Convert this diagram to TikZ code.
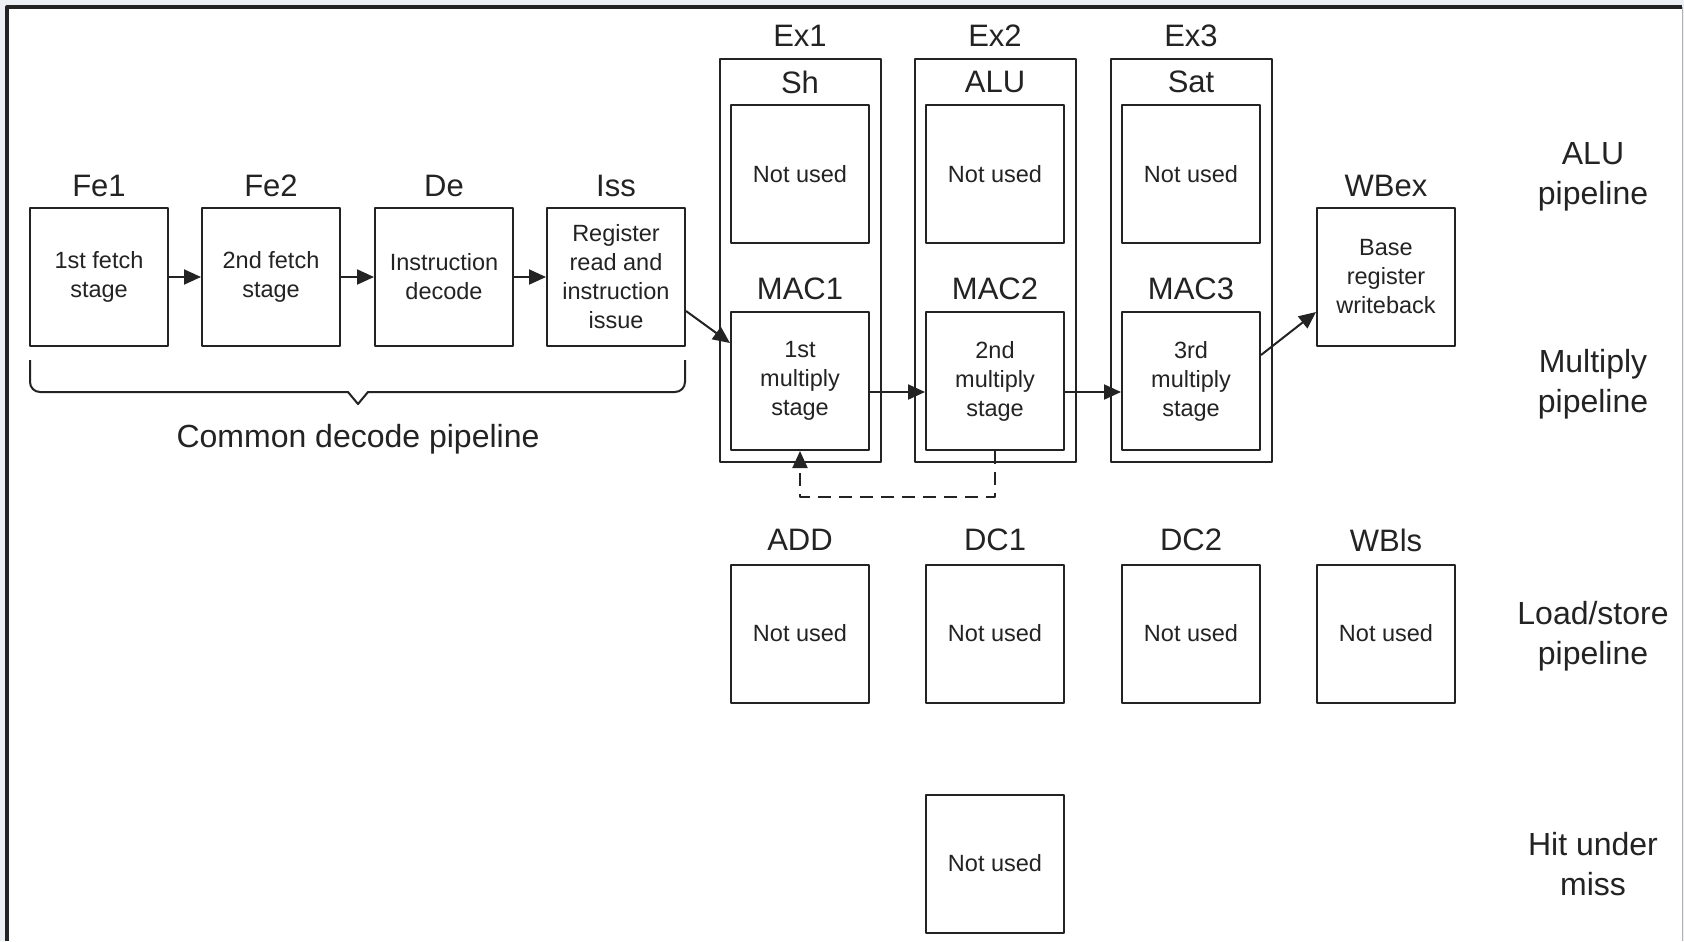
\documentclass[tikz,border=0pt]{standalone}
\usepackage{fontspec}
\setmainfont{Liberation Sans}
\usetikzlibrary{arrows.meta}
\definecolor{ink}{RGB}{35,35,35}
\definecolor{pagebg}{RGB}{236,240,245}
\tikzset{
	stage/.style={draw=ink, line width=1pt, minimum width=69pt, minimum height=69pt, inner sep=0pt, align=center, text=ink, font=\fontsize{11.75}{14.5}\selectfont},
	unit/.style={draw=ink, line width=1pt, minimum width=80.5pt, minimum height=201.5pt, inner sep=0pt},
	tag/.style={text=ink, inner sep=0pt, font=\fontsize{15.5}{18}\selectfont},
	pipe/.style={text=ink, inner sep=0pt, align=center, font=\fontsize{16}{20}\selectfont},
	flow/.style={->, draw=ink, line width=1pt},
}
\begin{document}
\begin{tikzpicture}[x=0.5pt, y=-0.5pt, line join=round, >={Triangle[length=8.5pt,width=7.5pt]}]
	\useasboundingbox (0,0) rectangle (1684,941);
	% page
	\fill[pagebg] (0,0) rectangle (1684,941);
	\fill[white] (7,7) rectangle (1682,941);
	\draw[ink, line width=1.6pt] (7,941) -- (7,7) -- (1682,7);
	\draw[gray!60, line width=0.5pt] (1682,7) -- (1682,941);
	% common decode pipeline
	\node[stage] (fe1) at (99,277) {1st fetch\\stage};
	\node[stage] (fe2) at (271,277) {2nd fetch\\stage};
	\node[stage] (de) at (444,277) {Instruction\\decode};
	\node[stage] (iss) at (616,277) {Register\\read and\\instruction\\issue};
	\node[tag] (lfe1) at (99,186) {Fe1};
	\node[tag] (lfe2) at (271,186) {Fe2};
	\node[tag] (lde) at (444,186) {De};
	\node[tag] (liss) at (616,186) {Iss};
	\draw[ink, line width=1pt] (30,360) -- (30,382) to[out=-90,in=180] (40,392) -- (348,392) -- (358,404) -- (368,392) -- (675,392) to[out=0,in=-90] (685,382) -- (685,360);
	\node[tag, font=\fontsize{16}{20}\selectfont] (lcommon) at (358,439) {Common decode pipeline};
	% execute stages
	\node[unit] (ex1) at (800,260.5) {};
	\node[unit] (ex2) at (995,260.5) {};
	\node[unit] (ex3) at (1191,260.5) {};
	\node[tag] (lex1) at (800,36) {Ex1};
	\node[tag] (lex2) at (995,36) {Ex2};
	\node[tag] (lex3) at (1191,36) {Ex3};
	\node[tag] (lsh) at (800,82) {Sh};
	\node[tag] (lalu) at (995,82) {ALU};
	\node[tag] (lsat) at (1191,82) {Sat};
	\node[stage] (sh) at (800,174) {Not used};
	\node[stage] (alu) at (995,174) {Not used};
	\node[stage] (sat) at (1191,174) {Not used};
	\node[tag] (lmac1) at (800,289) {MAC1};
	\node[tag] (lmac2) at (995,289) {MAC2};
	\node[tag] (lmac3) at (1191,289) {MAC3};
	\node[stage] (mac1) at (800,381) {1st\\multiply\\stage};
	\node[stage] (mac2) at (995,381) {2nd\\multiply\\stage};
	\node[stage] (mac3) at (1191,381) {3rd\\multiply\\stage};
	\node[tag] (lwbex) at (1386,186) {WBex};
	\node[stage] (wbex) at (1386,277) {Base\\register\\writeback};
	% load/store
	\node[tag] (ladd) at (800,540) {ADD};
	\node[tag] (ldc1) at (995,540) {DC1};
	\node[tag] (ldc2) at (1191,540) {DC2};
	\node[tag] (lwbls) at (1386,540) {WBls};
	\node[stage] (add) at (800,633.5) {Not used};
	\node[stage] (dc1) at (995,633.5) {Not used};
	\node[stage] (dc2) at (1191,633.5) {Not used};
	\node[stage] (wbls) at (1386,633.5) {Not used};
	\node[stage] (hum) at (995,863.5) {Not used};
	% pipeline names
	\node[pipe] (palu) at (1593,177) {ALU\\pipeline};
	\node[pipe] (pmul) at (1593,384) {Multiply\\pipeline};
	\node[pipe] (pls) at (1593,636) {Load/store\\pipeline};
	\node[pipe] (phum) at (1593,864) {Hit under\\miss};
	% connectors
	\draw[flow] (fe1) -- (fe2);
	\draw[flow] (fe2) -- (de);
	\draw[flow] (de) -- (iss);
	\draw[flow] ([yshift=-17pt]iss.east) -- ([yshift=19pt]mac1.west);
	\draw[flow] ([yshift=-5.5pt]mac1.east) -- ([yshift=-5.5pt]mac2.west);
	\draw[flow] ([yshift=-5.5pt]mac2.east) -- ([yshift=-5.5pt]mac3.west);
	\draw[flow] ([yshift=13pt]mac3.east) -- ([yshift=-17.5pt]wbex.west);
	\draw[flow, dash pattern=on 6.5pt off 4pt] (mac2.south) -- ++(0,46) -| (mac1.south);
\end{tikzpicture}
\end{document}
